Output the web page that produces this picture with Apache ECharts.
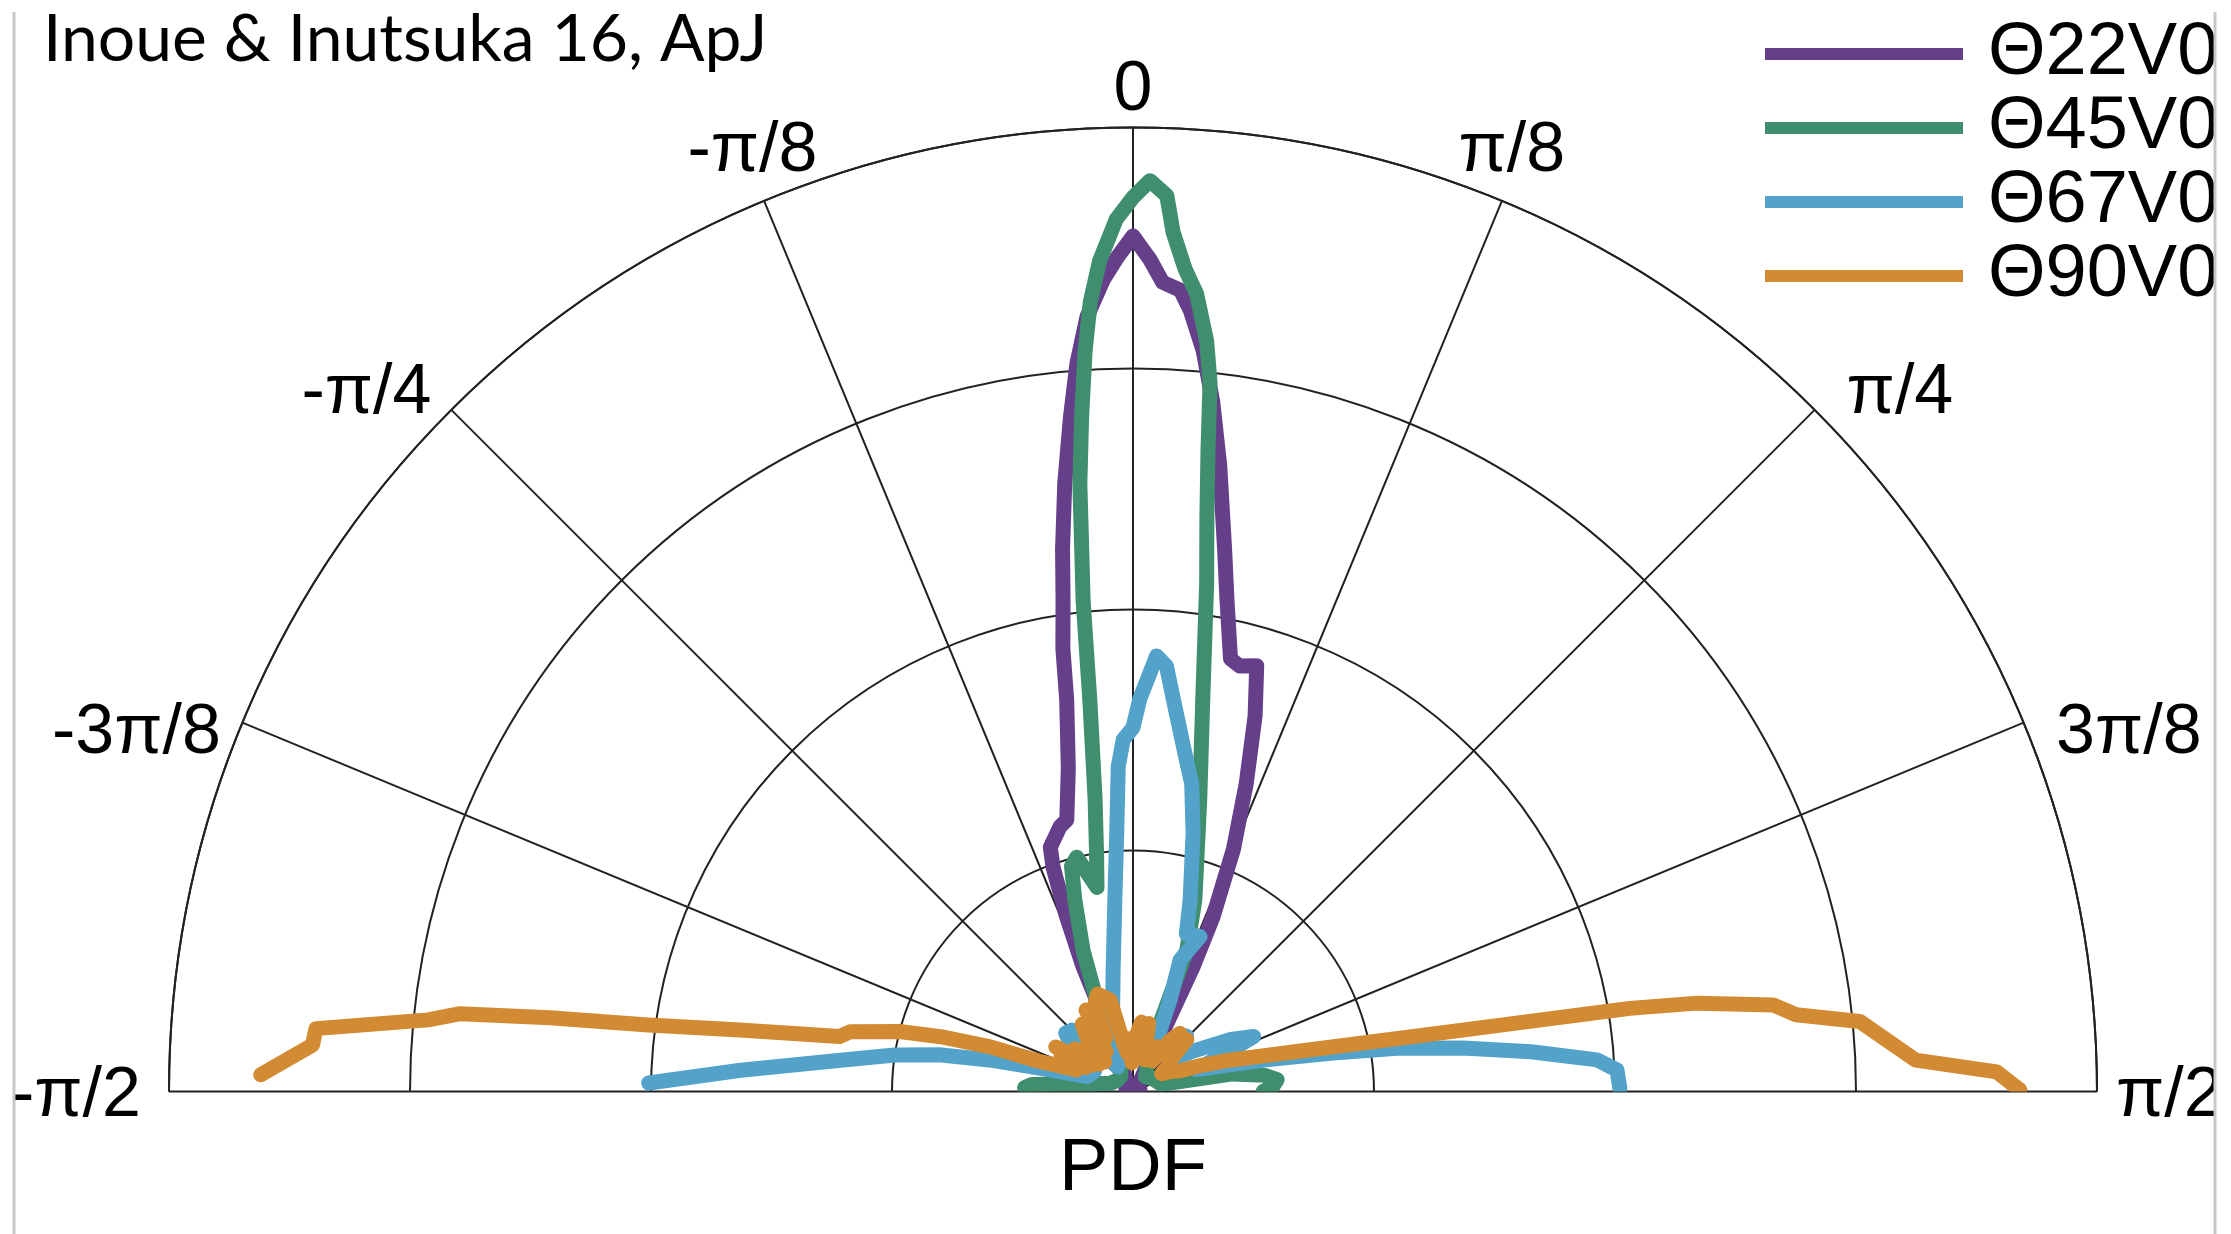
<!DOCTYPE html>
<html>
<head>
<meta charset="utf-8">
<script src="https://cdn.jsdelivr.net/npm/echarts@6/dist/echarts.min.js"></script>
<style>
html,body{margin:0;padding:0;background:#fff;}
#chart{width:2231px;height:1234px;}
</style>
</head>
<body>
<div id="chart"></div>
<script>
// ---- data (angle in degrees from vertical, PDF radius) ----
const seriesNames = ['Θ22V0', 'Θ45V0', 'Θ67V0', 'Θ90V0'];
const angleTickLabels = ['-π/2', '-3π/8', '-π/4', '-π/8', '0', 'π/8', 'π/4', '3π/8', 'π/2'];

const purpleAngle = [-90, -75, -60, -45, -33, -26, -22.5, -21.6, -21.8, -20.8, -19.6, -18.7, -15.4, -13.7, -11.3, -9.6, -9.0, -8.1, -7.4, -6.4, -5.3, -4.4, -3.4, -2.1, -1.1, 0, 1.2, 2.1, 3.4, 4.2, 5.4, 6.6, 7.9, 9.6, 10.8, 12.7, 14.1, 16.2, 18.0, 20.2, 22.5, 24.6, 25.7, 26.3, 28.9, 35, 50, 70, 90];
const purplePDF   = [0.02, 0.03, 0.03, 0.04, 0.05, 0.08, 0.15, 0.30, 0.56, 0.78, 0.99, 1.07, 1.14, 1.16, 1.37, 1.65, 1.86, 2.06, 2.27, 2.54, 2.81, 3.03, 3.22, 3.37, 3.46, 3.55, 3.45, 3.36, 3.33, 3.25, 3.09, 2.88, 2.62, 2.28, 2.08, 1.84, 1.82, 1.84, 1.64, 1.36, 1.09, 0.80, 0.58, 0.35, 0.12, 0.05, 0.03, 0.03, 0.02];

const greenAngle = [-90, -88, -86, -84, -80, -70, -55, -40, -30, -25, -21.6, -19.5, -16.9, -15.25, -13.5, -10.0, -8.7, -7.4, -6.3, -5.8, -5.4, -5.0, -4.35, -3.7, -3.1, -2.3, -1.1, 0, 1.07, 2.16, 2.67, 3.62, 4.56, 5.6, 6.2, 6.67, 7.31, 8.25, 10.1, 12.9, 17.9, 20.8, 22.0, 25, 40, 60, 75, 78, 80, 83, 85.3, 88, 90];
const greenPDF   = [0.40, 0.45, 0.42, 0.30, 0.18, 0.10, 0.08, 0.08, 0.10, 0.22, 0.41, 0.62, 0.83, 0.97, 1.00, 0.86, 1.00, 1.22, 1.63, 2.05, 2.26, 2.53, 2.81, 3.08, 3.28, 3.45, 3.62, 3.71, 3.78, 3.72, 3.57, 3.42, 3.32, 3.13, 2.96, 2.68, 2.41, 2.13, 1.65, 1.24, 0.835, 0.63, 0.26, 0.15, 0.08, 0.10, 0.12, 0.20, 0.42, 0.55, 0.60, 0.58, 0.54];

const blueAngle = [-89, -86.9, -83.9, -81.3, -79.3, -77.6, -76, -72, -62, -55, -49, -45, -40, -32, -22, -14, -9.1, -5.4, -3.6, -2.6, -1.6, 0, 1.0, 3.1, 4.5, 6.65, 9.2, 10.8, 13.1, 16.6, 18.7, 23.4, 19.7, 22, 26, 36, 44, 50, 56, 62, 65.5, 68, 71, 76.4, 79, 80.7, 82.5, 84.3, 86.1, 87.45, 89.6];
const bluePDF   = [2.01, 1.63, 1.22, 1.00, 0.82, 0.61, 0.40, 0.20, 0.18, 0.30, 0.37, 0.36, 0.20, 0.12, 0.15, 0.35, 0.52, 0.80, 1.075, 1.35, 1.46, 1.51, 1.63, 1.81, 1.77, 1.57, 1.39, 1.30, 1.10, 0.83, 0.69, 0.70, 0.58, 0.41, 0.20, 0.20, 0.32, 0.20, 0.30, 0.46, 0.55, 0.40, 0.28, 0.556, 0.833, 1.11, 1.38, 1.66, 1.93, 2.01, 2.02];

const orangeAngle = [-88.9, -86.75, -85.6, -84.2, -83.4, -82.8, -82.2, -81.1, -79.4, -78.1, -75.6, -74.1, -72.6, -72.2, -69, -66, -63, -60, -57, -54, -51, -47, -44, -40, -37, -34, -30, -27, -23, -20, -17, -14, -11, -8, -5, -2, 1, 4, 7, 10, 13, 16, 20, 24, 28, 32, 36, 39, 42, 46, 50, 54, 58, 62, 66, 69, 72, 76.3, 79.45, 80.5, 81.1, 82.3, 83.4, 84.5, 87.7, 88.7, 89.9];
const orangePDF   = [3.62, 3.41, 3.40, 2.94, 2.81, 2.44, 2.03, 1.65, 1.24, 1.20, 1.00, 0.83, 0.62, 0.41, 0.25, 0.33, 0.22, 0.37, 0.20, 0.30, 0.18, 0.27, 0.17, 0.30, 0.35, 0.20, 0.39, 0.25, 0.40, 0.43, 0.41, 0.39, 0.20, 0.16, 0.22, 0.12, 0.15, 0.24, 0.29, 0.22, 0.29, 0.18, 0.14, 0.20, 0.21, 0.15, 0.26, 0.31, 0.24, 0.31, 0.20, 0.18, 0.14, 0.18, 0.21, 0.30, 0.42, 0.70, 1.39, 2.09, 2.37, 2.68, 2.77, 3.03, 3.25, 3.585, 3.68];

const colors = ['#663f8a', '#3f8e6d', '#52a2c9', '#d38b33'];

function pairs(angles, vals) { return angles.map((a, i) => [vals[i], a]); }
const seriesData = [
  pairs(purpleAngle, purplePDF),
  pairs(greenAngle, greenPDF),
  pairs(blueAngle, bluePDF),
  pairs(orangeAngle, orangePDF)
];

// angle-label placement: anchors sit inside the rim (negative margin), rich padding pushes each label out
const labelFont = { fontSize: 70, fontFamily: 'Liberation Sans', color: '#000' };
const labelPads = [
  [11, 178, 0, 0],   // -π/2  (right, middle)
  [0, 160, 11, 0],   // -3π/8 (right, bottom)
  [0, 126, 87, 0],   // -π/4
  [0, 4, 153, 0],    // -π/8
  [0, 0, 152, 0],    // 0     (center, bottom)
  [0, 0, 153, 14],   // π/8   (left, bottom)
  [0, 0, 87, 138],   // π/4
  [0, 0, 11, 171],   // 3π/8
  [11, 0, 0, 169]    // π/2   (left, middle)
];
const rich = {};
labelPads.forEach((p, i) => { rich['s' + i] = Object.assign({ padding: p }, labelFont); });

const chart = echarts.init(document.getElementById('chart'), null, {renderer: 'canvas'});
const option = {
  backgroundColor: '#ffffff',
  animation: false,
  polar: { center: [1133, 1091.5], radius: 964 },
  angleAxis: {
    type: 'value', min: -90, max: 90, interval: 22.5,
    startAngle: 180, endAngle: 0, clockwise: true,
    axisLine: { show: true, lineStyle: { color: '#222', width: 2 } },
    axisTick: { show: false },
    splitLine: { show: true, lineStyle: { color: '#222', width: 2 } },
    axisLabel: Object.assign({
      show: true, margin: -150, rich: rich,
      formatter: v => { const k = Math.round((v + 90) / 22.5); return '{s' + k + '|' + angleTickLabels[k] + '}'; }
    }, labelFont)
  },
  radiusAxis: {
    type: 'value', min: 0, max: 4, interval: 1,
    axisLine: { show: false }, axisTick: { show: false }, axisLabel: { show: false },
    splitLine: { show: true, lineStyle: { color: '#222', width: 2 } }
  },
  legend: {
    orient: 'vertical', left: 1760, top: 12, itemWidth: 198, itemHeight: 12, itemGap: 0,
    icon: 'rect',
    data: seriesNames,
    textStyle: { fontSize: 74, fontFamily: 'Liberation Sans', color: '#000', lineHeight: 70, padding: [0, 0, 0, 20] }
  },
  series: seriesNames.map((n, i) => ({
    name: n, type: 'line', coordinateSystem: 'polar',
    data: seriesData[i], showSymbol: false, symbol: 'none', smooth: false,
    lineStyle: { color: colors[i], width: 15, join: 'round', cap: 'round' },
    itemStyle: { color: colors[i] },
    z: 2 + i
  })),
  graphic: [
    { type: 'text', left: 43, top: 7, z: 100,
      style: { text: 'Inoue & Inutsuka 16, ApJ', font: '66px Lato', fill: '#000' } },
    { type: 'text', left: 1133 - 74, top: 1133, z: 100,
      style: { text: 'PDF', font: '74px "Liberation Sans"', fill: '#000' } },
    { type: 'line', z: 100, shape: { x1: 14, y1: 12, x2: 14, y2: 1234 }, style: { stroke: '#c8c8c8', lineWidth: 3 } },
    { type: 'rect', z: 99, shape: { x: 2215, y: 0, width: 30, height: 1234 }, style: { fill: '#fff' } },
    { type: 'line', z: 100, shape: { x1: 2215, y1: 12, x2: 2215, y2: 1234 }, style: { stroke: '#c8c8c8', lineWidth: 3 } }
  ]
};
chart.setOption(option);
</script>
</body>
</html>
